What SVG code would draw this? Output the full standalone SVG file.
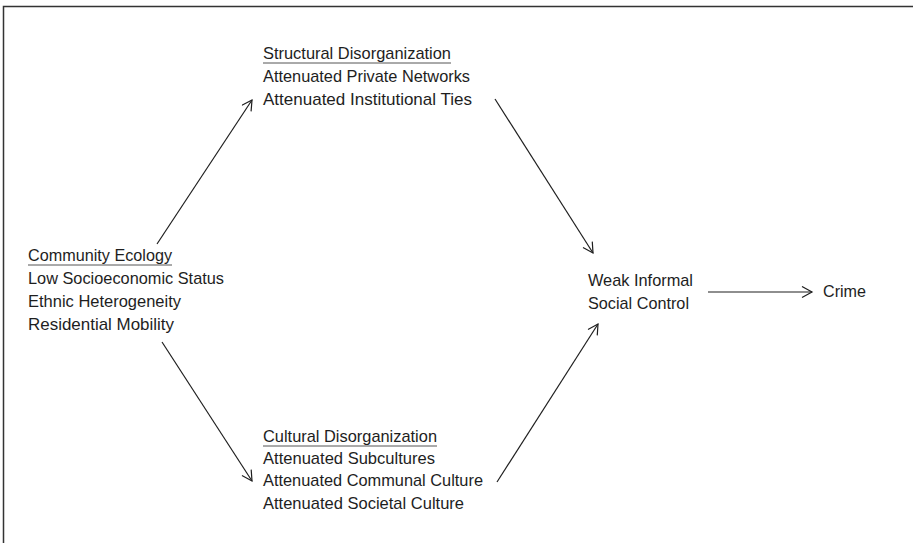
<svg xmlns="http://www.w3.org/2000/svg" width="913" height="543" viewBox="0 0 913 543">
<defs>
<style>
text{font-family:"Liberation Sans","Noto Sans",Arial,sans-serif;font-size:17px;fill:#1e1e1e}
.ul{stroke:#555;stroke-width:1}
.conn{stroke:#1e1e1e;stroke-width:1.2;fill:none;marker-end:url(#arr)}
</style>
<marker id="arr" markerUnits="userSpaceOnUse" markerWidth="14" markerHeight="14" refX="11" refY="6" orient="auto">
<path d="M1,0.5 L11,6 L1,11.5" fill="none" stroke="#1e1e1e" stroke-width="1.2"/>
</marker>
</defs>
<rect width="913" height="543" fill="#fff"/>
<rect x="3.5" y="6.5" width="920" height="550" fill="none" stroke="#333" stroke-width="1.5"/>
<g id="connectors">
<line class="conn" x1="157" y1="244" x2="252" y2="100"/>
<line class="conn" x1="495" y1="99" x2="593" y2="253"/>
<line class="conn" x1="162" y1="342" x2="252" y2="481"/>
<line class="conn" x1="497" y1="482" x2="598" y2="324"/>
<line class="conn" x1="708" y1="292" x2="812" y2="292"/>
</g>
<g id="community">
<text x="28" y="261" textLength="144" lengthAdjust="spacingAndGlyphs">Community Ecology</text>
<line class="ul" x1="28" y1="265" x2="172" y2="265"/>
<text x="28" y="284" textLength="196" lengthAdjust="spacingAndGlyphs">Low Socioeconomic Status</text>
<text x="28" y="307" textLength="153" lengthAdjust="spacingAndGlyphs">Ethnic Heterogeneity</text>
<text x="28" y="330" textLength="146" lengthAdjust="spacingAndGlyphs">Residential Mobility</text>
</g>
<g id="structural">
<text x="263" y="59" textLength="188" lengthAdjust="spacingAndGlyphs">Structural Disorganization</text>
<line class="ul" x1="263" y1="63" x2="451" y2="63"/>
<text x="263" y="82" textLength="207" lengthAdjust="spacingAndGlyphs">Attenuated Private Networks</text>
<text x="263" y="105" textLength="209" lengthAdjust="spacingAndGlyphs">Attenuated Institutional Ties</text>
</g>
<g id="cultural">
<text x="263" y="442" textLength="174" lengthAdjust="spacingAndGlyphs">Cultural Disorganization</text>
<line class="ul" x1="263" y1="446" x2="437" y2="446"/>
<text x="263" y="464" textLength="172" lengthAdjust="spacingAndGlyphs">Attenuated Subcultures</text>
<text x="263" y="486" textLength="220" lengthAdjust="spacingAndGlyphs">Attenuated Communal Culture</text>
<text x="263" y="509" textLength="201" lengthAdjust="spacingAndGlyphs">Attenuated Societal Culture</text>
</g>
<g id="weak">
<text x="588" y="286" textLength="105" lengthAdjust="spacingAndGlyphs">Weak Informal</text>
<text x="588" y="309" textLength="101" lengthAdjust="spacingAndGlyphs">Social Control</text>
</g>
<g id="crime">
<text x="823" y="297" textLength="43" lengthAdjust="spacingAndGlyphs">Crime</text>
</g>
</svg>
